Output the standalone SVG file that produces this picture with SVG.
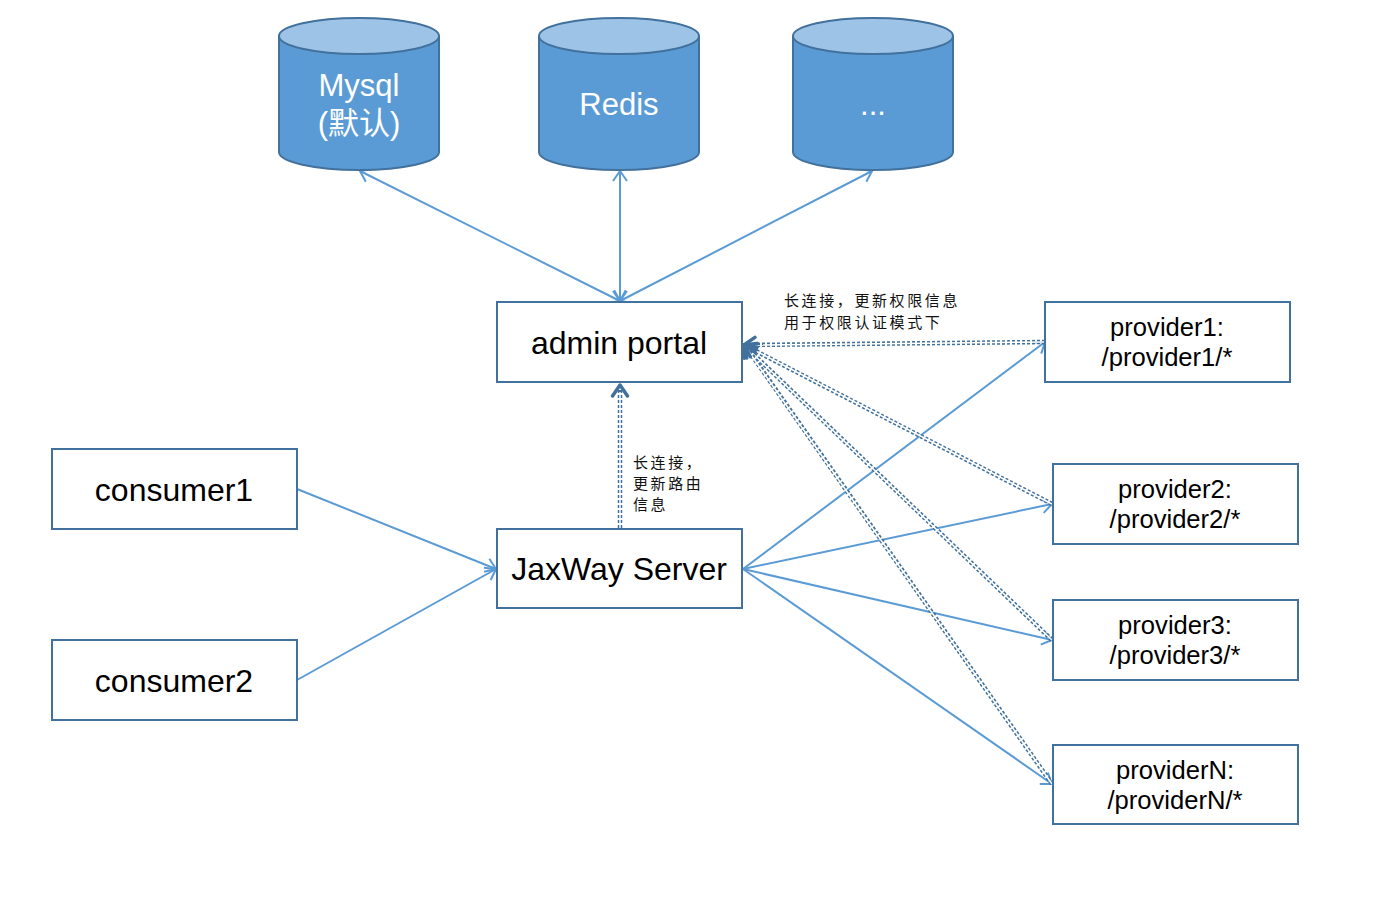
<svg xmlns="http://www.w3.org/2000/svg" width="1386" height="898" viewBox="0 0 1386 898">
<defs>
<style>
.box{fill:#fff;stroke:#41719C;stroke-width:2}
.cyl{fill:#5B9BD5;stroke:#41719C;stroke-width:2}
.cyltop{fill:#9DC3E6;stroke:#41719C;stroke-width:2}
.t{font-family:"Liberation Sans","Noto Sans CJK SC",sans-serif;fill:#000;text-anchor:middle}
.tw{font-family:"Liberation Sans","Noto Sans CJK SC",sans-serif;fill:#fff;text-anchor:middle}
.lab{font-family:"Noto Sans CJK SC","Liberation Serif",serif;fill:#111;font-size:15px;letter-spacing:2.6px}
.solid{stroke:#5B9BD5;stroke-width:2;fill:none}
.dd{stroke:#41719C;stroke-width:4.5;stroke-dasharray:3 2;fill:none}
.ddw{stroke:#fff;stroke-width:1.5;fill:none}
</style>
<marker id="a" viewBox="0 0 20 20" refX="17" refY="10" markerWidth="20" markerHeight="20" markerUnits="userSpaceOnUse" orient="auto-start-reverse">
<path d="M7,3 L17,10 L7,17" fill="none" stroke="#5B9BD5" stroke-width="2"/>
</marker>
<marker id="d" viewBox="0 0 20 20" refX="17" refY="10" markerWidth="20" markerHeight="20" markerUnits="userSpaceOnUse" orient="auto">
<path d="M6,2.5 L17,10 L6,17.5" fill="none" stroke="#41719C" stroke-width="3.5" stroke-linecap="round" stroke-linejoin="round"/>
</marker>
</defs>

<g id="connectors">
<line class="solid" x1="360" y1="171" x2="620" y2="301" marker-start="url(#a)" marker-end="url(#a)"/>
<line class="solid" x1="620" y1="171" x2="620" y2="301" marker-start="url(#a)" marker-end="url(#a)"/>
<line class="solid" x1="872" y1="171" x2="620" y2="301" marker-start="url(#a)" marker-end="url(#a)"/>
<line class="solid" x1="297" y1="489" x2="496" y2="569" marker-end="url(#a)"/>
<line class="solid" x1="297" y1="680" x2="496" y2="569" marker-end="url(#a)"/>
<line class="solid" x1="743" y1="569" x2="1045" y2="342" marker-end="url(#a)"/>
<line class="solid" x1="743" y1="569" x2="1052" y2="504" marker-end="url(#a)"/>
<line class="solid" x1="743" y1="569" x2="1052" y2="640" marker-end="url(#a)"/>
<line class="solid" x1="743" y1="569" x2="1052" y2="784" marker-end="url(#a)"/>
<g>
<line class="dd" x1="620" y1="528" x2="620" y2="387"/>
<line class="ddw" x1="620" y1="528" x2="620" y2="392"/>
<line class="dd" x1="1045" y1="342" x2="746" y2="345"/>
<line class="ddw" x1="1045" y1="342" x2="752" y2="345"/>
<line class="dd" x1="1052" y1="504" x2="746" y2="346"/>
<line class="ddw" x1="1052" y1="504" x2="752" y2="349"/>
<line class="dd" x1="1052" y1="640" x2="746" y2="347"/>
<line class="ddw" x1="1052" y1="640" x2="751" y2="352"/>
<line class="dd" x1="1052" y1="784" x2="746" y2="347"/>
<line class="ddw" x1="1052" y1="784" x2="749" y2="352"/>
<line x1="620" y1="528" x2="620" y2="385" stroke="none" marker-end="url(#d)"/>
<line x1="1045" y1="342" x2="744" y2="345" stroke="none" marker-end="url(#d)"/>
<line x1="1052" y1="504" x2="744" y2="345" stroke="none" marker-end="url(#d)"/>
<line x1="1052" y1="640" x2="744" y2="345" stroke="none" marker-end="url(#d)"/>
<line x1="1052" y1="784" x2="744" y2="345" stroke="none" marker-end="url(#d)"/>
</g>
<text class="lab" x="784" y="306">长连接，更新权限信息</text>
<text class="lab" x="784" y="328">用于权限认证模式下</text>
<text class="lab" x="633" y="468">长连接，</text>
<text class="lab" x="633" y="489">更新路由</text>
<text class="lab" x="633" y="510">信息</text>
</g>

<g id="mysql">
<path class="cyl" d="M279,36 V152 A80,18 0 0 0 439,152 V36"/>
<ellipse class="cyltop" cx="359" cy="36" rx="80" ry="18"/>
<text class="tw" x="359" y="96" font-size="31">Mysql</text>
<text class="tw" x="359" y="134" font-size="31">(默认)</text>
</g>
<g id="redis">
<path class="cyl" d="M539,36 V152 A80,18 0 0 0 699,152 V36"/>
<ellipse class="cyltop" cx="619" cy="36" rx="80" ry="18"/>
<text class="tw" x="619" y="115" font-size="31">Redis</text>
</g>
<g id="more">
<path class="cyl" d="M793,36 V152 A80,18 0 0 0 953,152 V36"/>
<ellipse class="cyltop" cx="873" cy="36" rx="80" ry="18"/>
<text class="tw" x="873" y="115" font-size="31">...</text>
</g>

<g id="admin">
<rect class="box" x="497" y="302" width="245" height="80"/>
<text class="t" x="619" y="354" font-size="32">admin portal</text>
</g>
<g id="jaxway">
<rect class="box" x="497" y="529" width="245" height="79"/>
<text class="t" x="619" y="580" font-size="32">JaxWay Server</text>
</g>
<g id="consumer1">
<rect class="box" x="52" y="449" width="245" height="80"/>
<text class="t" x="174" y="501" font-size="32">consumer1</text>
</g>
<g id="consumer2">
<rect class="box" x="52" y="640" width="245" height="80"/>
<text class="t" x="174" y="692" font-size="32">consumer2</text>
</g>
<g id="provider1">
<rect class="box" x="1045" y="302" width="245" height="80"/>
<text class="t" x="1167" y="336" font-size="25.6">provider1:</text>
<text class="t" x="1167" y="366" font-size="25.6">/provider1/*</text>
</g>
<g id="provider2">
<rect class="box" x="1053" y="464" width="245" height="80"/>
<text class="t" x="1175" y="498" font-size="25.6">provider2:</text>
<text class="t" x="1175" y="528" font-size="25.6">/provider2/*</text>
</g>
<g id="provider3">
<rect class="box" x="1053" y="600" width="245" height="80"/>
<text class="t" x="1175" y="634" font-size="25.6">provider3:</text>
<text class="t" x="1175" y="664" font-size="25.6">/provider3/*</text>
</g>
<g id="providerN">
<rect class="box" x="1053" y="745" width="245" height="79"/>
<text class="t" x="1175" y="779" font-size="25.6">providerN:</text>
<text class="t" x="1175" y="809" font-size="25.6">/providerN/*</text>
</g>
</svg>
